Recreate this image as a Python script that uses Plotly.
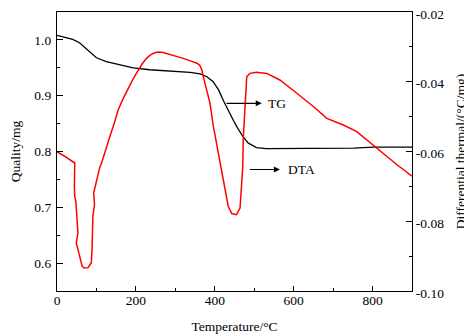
import plotly.graph_objects as go

temp_tg = [0, 20, 40, 57, 75, 100, 125, 159, 193, 235, 295, 337, 363, 380, 396, 410, 422, 434,
           447, 458, 472, 485, 506, 530, 565, 650, 752, 802, 900]
tg_values = [1.008, 1.005, 1.001, 0.995, 0.983, 0.968, 0.961, 0.955, 0.950, 0.9465, 0.9435, 0.9417,
             0.939, 0.934, 0.925, 0.910, 0.891, 0.873, 0.856, 0.842, 0.826, 0.815, 0.807, 0.805,
             0.805, 0.805, 0.806, 0.808, 0.808]

temp_dta = [0, 3, 20, 40, 45, 44, 45, 48, 49, 52, 53, 49, 52, 57, 64, 70, 79, 87, 89, 91, 95, 93,
            100, 108, 113, 122, 130, 134, 145, 155, 167, 180, 193, 206, 217, 227, 237, 248, 258,
            269, 282, 295, 320, 345, 355, 362, 367, 371, 379, 388, 396, 409, 421, 434, 443, 455,
            464, 468, 471, 472, 476, 481, 489, 506, 532, 565, 608, 650, 684, 726, 760, 786, 820,
            862, 900]
dta_values = [-0.0602, -0.0603, -0.0614, -0.0629, -0.0633, -0.0700, -0.0729, -0.0745, -0.0767,
              -0.0800, -0.0833, -0.0862, -0.0875, -0.0905, -0.0930, -0.0934, -0.0933, -0.0919,
              -0.0876, -0.0786, -0.0752, -0.0719, -0.0686, -0.0647, -0.0633, -0.0600, -0.0567,
              -0.0557, -0.0520, -0.0481, -0.0450, -0.0419, -0.0392, -0.0367, -0.0347, -0.0333,
              -0.0323, -0.0317, -0.0315, -0.0316, -0.0320, -0.0324, -0.0333, -0.0343, -0.0347,
              -0.0353, -0.0365, -0.0386, -0.0424, -0.0462, -0.0525, -0.0605, -0.0681, -0.0757,
              -0.0778, -0.0781, -0.0762, -0.0700, -0.0643, -0.0567, -0.0471, -0.0386, -0.0376,
              -0.0373, -0.0376, -0.0395, -0.0433, -0.0471, -0.0505, -0.0524, -0.0543, -0.0567,
              -0.0600, -0.0638, -0.0671]

x_ticks = [0, 200, 400, 600, 800]
left_ticks = [0.6, 0.7, 0.8, 0.9, 1.0]
left_labels = ["0.6", "0.7", "0.8", "0.9", "1.0"]
right_ticks = [-0.10, -0.08, -0.06, -0.04, -0.02]
right_labels = ["-0.10", "-0.08", "-0.06", "-0.04", "-0.02"]

FONT = "Liberation Serif"
FS = 13.5

fig = go.Figure()
fig.add_trace(go.Scatter(x=temp_tg, y=tg_values, mode="lines",
                         line=dict(color="black", width=1.3), yaxis="y", showlegend=False))
fig.add_trace(go.Scatter(x=temp_dta, y=dta_values, mode="lines",
                         line=dict(color="#ff0000", width=1.5), yaxis="y2", showlegend=False))

# arrows and labels
fig.add_annotation(x=519, y=0.8864, ax=426, ay=0.8864, xref="x", yref="y", axref="x", ayref="y",
                   showarrow=True, arrowhead=2, arrowsize=1, arrowwidth=1.2, arrowcolor="black", text="")
fig.add_annotation(x=530, y=0.8864, xref="x", yref="y", text="TG", showarrow=False,
                   xanchor="left", yanchor="middle", font=dict(family=FONT, size=FS, color="black"))
fig.add_annotation(x=565, y=0.7677, ax=485, ay=0.7677, xref="x", yref="y", axref="x", ayref="y",
                   showarrow=True, arrowhead=2, arrowsize=1, arrowwidth=1.2, arrowcolor="black", text="")
fig.add_annotation(x=581, y=0.7677, xref="x", yref="y", text="DTA", showarrow=False,
                   xanchor="left", yanchor="middle", font=dict(family=FONT, size=FS, color="black"))

fig.update_layout(
    width=472, height=336,
    margin=dict(l=49, r=68, t=4, b=53, autoexpand=False),
    paper_bgcolor="white", plot_bgcolor="white",
    font=dict(family=FONT, size=FS, color="black"),
    xaxis=dict(range=[0, 900], tickvals=x_ticks, ticktext=[str(v) for v in x_ticks],
               ticks="inside", ticklen=5, tickwidth=1, tickcolor="black",
               minor=dict(ticks="inside", ticklen=3, dtick=100, tick0=0, tickcolor="black"),
               showgrid=False, zeroline=False, showline=True, linecolor="black", linewidth=1.3,
               mirror=True, automargin=False, ticklabelstandoff=-3, ticklabeloverflow="allow",
               title=dict(text="Temperature/°C", font=dict(family=FONT, size=FS), standoff=14)),
    yaxis=dict(range=[0.55, 1.05], tickvals=left_ticks, ticktext=left_labels,
               ticks="inside", ticklen=6, tickwidth=1, tickcolor="black",
               minor=dict(ticks="inside", ticklen=3, dtick=0.05, tick0=0.55, tickcolor="black"),
               showgrid=False, zeroline=False, showline=True, linecolor="black", linewidth=1.3,
               automargin=False, ticklabelstandoff=2, ticklabeloverflow="allow",
               title=dict(text="Quality/mg", font=dict(family=FONT, size=FS), standoff=14)),
    yaxis2=dict(range=[-0.10, -0.02], overlaying="y", side="right",
                tickvals=right_ticks, ticktext=right_labels,
                ticks="inside", ticklen=6, tickwidth=1, tickcolor="black",
                minor=dict(ticks="inside", ticklen=3, dtick=0.01, tick0=-0.10, tickcolor="black"),
                showgrid=False, zeroline=False, showline=True, linecolor="black", linewidth=1.3,
                automargin=False, ticklabeloverflow="allow", ticklabelshift=2,
                title=dict(text="Differential thermal/(°C/mg)", font=dict(family=FONT, size=FS),
                           standoff=12)),
)

fig.write_html("out.html")
